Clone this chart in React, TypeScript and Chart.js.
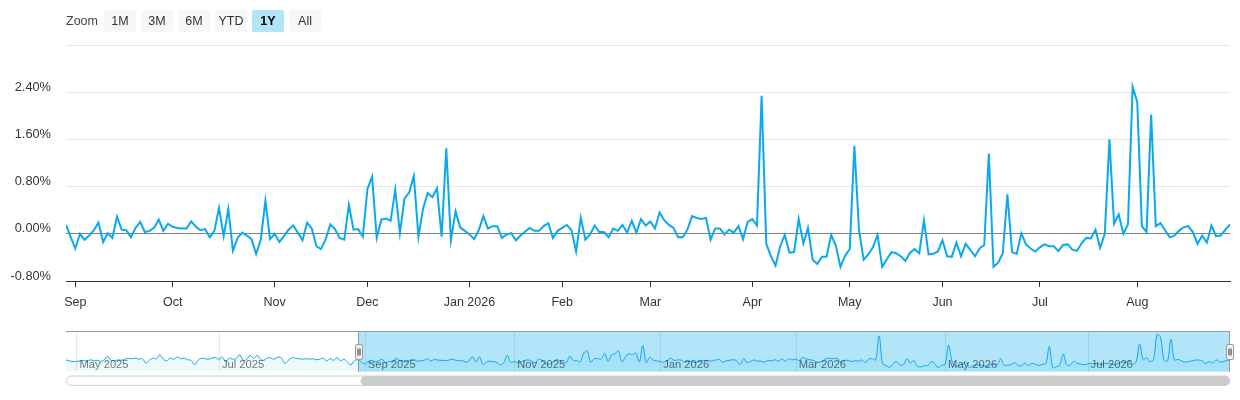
import React, { useEffect, useRef } from 'react';
import { Chart, registerables } from 'chart.js';

Chart.register(...registerables);

const FONT = '"Liberation Sans", Arial, Helvetica, sans-serif';
const LINE_COLOR = '#0aa9ec';

// ---- Navigator-only history (late Apr – 27 Aug 2025), daily % change ----
const apr2025Tail = [0.13, 0.05, -0.02];
const may2025 = [0.0, 0.05, 0.1, 0.0, 0.15, 0.05, 0.1, 0.0, 0.15, 0.45, 0.1, 0.05, 0.15, 0.1, 0.2, 0.28, 0.25, 0.3, 0.2, 0.25, -0.15];
const jun2025 = [0.1, 0.3, 0.25, 0.6, 0.2, 0.05, 0.3, 0.2, 0.4, 0.25, 0.3, 0.15, 0.1, -0.3, 0.1, 0.3, 0.25, 0.2, 0.3, 0.35];
const jul2025 = [0.2, 0.4, -0.05, 0.3, 0.2, 0.25, 0.6, 0.1, 0.2, 0.55, 0.3, 0.55, 0.2, 0.1, 0.35, 0.3, 0.2, 0.4, 0.3, -0.2, 0.1, 0.35];
const aug2025Early = [0.3, 0.25, 0.2, 0.25, 0.2, 0.25, 0.15, 0.2, 0.3, 0.05, 0.25, 0.1, 0.35, 0.05, 0.2, -0.1, -0.3, 0.05];

// ---- Main (1Y) window, daily % change ----
const aug2025Late = [0.15, -0.05];
const sep2025 = [-0.25, 0.0, -0.1, -0.03, 0.06, 0.19, -0.14, 0.01, -0.07, 0.29, 0.07, 0.06, -0.06, 0.1, 0.2, 0.03, 0.05, 0.1, 0.24, 0.05, 0.17];
const oct2025 = [0.12, 0.1, 0.09, 0.09, 0.21, 0.12, 0.06, 0.08, -0.06, 0.05, 0.44, -0.04, 0.42, -0.29, -0.07, 0.02, -0.03, -0.09, -0.34, -0.1, 0.56, -0.09];
const nov2025 = [0.0, -0.14, -0.04, 0.07, 0.14, 0.02, -0.11, 0.19, 0.09, -0.21, -0.26, -0.09, 0.16, 0.08, -0.07, -0.1, 0.49, 0.07, 0.08, -0.05];
const dec2025 = [0.76, 0.97, -0.07, 0.24, 0.26, 0.22, 0.75, 0.01, 0.6, 0.7, 0.98, -0.05, 0.43, 0.69, 0.62, 0.77, -0.05, 1.45, -0.11, 0.38, 0.11, 0.05];
const jan2026 = [-0.01, -0.09, 0.06, 0.3, 0.09, 0.13, 0.13, -0.07, -0.01, 0.01, -0.11, -0.03, 0.04, 0.1, 0.05, 0.05, 0.13, 0.18, -0.07, 0.05];
const feb2026 = [0.1, 0.15, 0.06, -0.3, 0.27, -0.1, -0.01, 0.14, 0.03, 0.03, -0.06, 0.09, 0.05, 0.15, 0.02, 0.22, 0.02, 0.25, 0.14];
const mar2026 = [0.21, 0.09, 0.36, 0.23, 0.15, 0.1, -0.06, -0.06, 0.07, 0.3, 0.27, 0.25, 0.27, -0.1, 0.09, 0.09, -0.01, 0.07, 0.02, 0.13, -0.09, 0.2];
const apr2026 = [0.25, 0.14, 2.34, -0.17, -0.38, -0.54, -0.21, -0.02, -0.32, -0.31, 0.25, -0.16, 0.1, -0.44, -0.51, -0.39, -0.39, -0.02, -0.2, -0.56, -0.37];
const may2026 = [-0.26, 1.49, 0.06, -0.44, -0.35, -0.23, -0.02, -0.56, -0.43, -0.31, -0.33, -0.38, -0.46, -0.32, -0.26, -0.33, 0.23, -0.35, -0.34, -0.3];
const jun2026 = [-0.11, -0.38, -0.39, -0.15, -0.38, -0.17, -0.27, -0.38, -0.25, -0.19, 1.36, -0.56, -0.49, -0.33, 0.67, -0.31, -0.34, 0.01, -0.18, -0.25, -0.3];
const jul2026 = [-0.23, -0.18, -0.21, -0.21, -0.29, -0.19, -0.18, -0.27, -0.29, -0.16, -0.07, -0.08, 0.07, -0.24, 0.0, 1.6, 0.17, 0.33, 0.0, 0.16, 2.49];
const aug2026 = [2.23, 0.13, 0.03, 2.02, 0.13, 0.18, 0.06, -0.06, -0.03, 0.05, 0.11, 0.13, 0.03, -0.17, -0.03, -0.15, 0.14, -0.04, -0.03, 0.07, 0.16];

const mainMonthLabels = ['Sep', 'Oct', 'Nov', 'Dec', 'Jan 2026', 'Feb', 'Mar', 'Apr', 'May', 'Jun', 'Jul', 'Aug'];
const navTickLabels = ['May 2025', 'Jul 2025', 'Sep 2025', 'Nov 2025', 'Jan 2026', 'Mar 2026', 'May 2026', 'Jul 2026'];
const yTickValues = [-0.8, 0, 0.8, 1.6, 2.4, 3.2];
const yTickLabels = ['-0.80%', '0.00%', '0.80%', '1.60%', '2.40%', ''];
const zoomButtons = ['1M', '3M', '6M', 'YTD', '1Y', 'All'];
const selectedButton = '1Y';

// ---- derived tables ----
const mainMonths = [sep2025, oct2025, nov2025, dec2025, jan2026, feb2026, mar2026, apr2026, may2026, jun2026, jul2026, aug2026];
const mainValues: number[] = [...aug2025Late, ...mainMonths.flat()];
const mainTickIdx: number[] = [];
{
  let c = aug2025Late.length;
  mainMonths.forEach((m) => {
    mainTickIdx.push(c);
    c += m.length;
  });
}
const mainLabelMap = new Map<number, string>();
mainTickIdx.forEach((v, k) => mainLabelMap.set(v, mainMonthLabels[k]));

const historyValues: number[] = [apr2025Tail, may2025, jun2025, jul2025, aug2025Early].flat();
const navValues: number[] = [...historyValues, ...mainValues];
const selectionStart = historyValues.length;
const navMonthStarts: number[] = [];
{
  let c = apr2025Tail.length;
  [may2025, jun2025, jul2025].forEach((m) => {
    navMonthStarts.push(c);
    c += m.length;
  });
  navMonthStarts.push(c); // Aug 2025
  mainTickIdx.forEach((v) => navMonthStarts.push(v + selectionStart));
}
const navTickIdx = navMonthStarts.filter((_, k) => k % 2 === 0).slice(0, navTickLabels.length);

function rr(ctx: CanvasRenderingContext2D, x: number, y: number, w: number, h: number, r: number) {
  ctx.beginPath();
  if ((ctx as any).roundRect) {
    (ctx as any).roundRect(x, y, w, h, r);
  } else {
    ctx.rect(x, y, w, h);
  }
}

const navPlugin = {
  id: 'navDecor',
  beforeDatasetsDraw(chart: any) {
    const { ctx, chartArea: a, scales } = chart;
    const xs = scales.x;
    ctx.save();
    ctx.strokeStyle = '#e6e6e6';
    ctx.lineWidth = 1;
    navTickIdx.forEach((i) => {
      const px = Math.round(xs.getPixelForValue(i)) + 0.5;
      ctx.beginPath();
      ctx.moveTo(px, a.top);
      ctx.lineTo(px, a.bottom);
      ctx.stroke();
    });
    const sx = xs.getPixelForValue(selectionStart);
    ctx.fillStyle = 'rgba(0,170,238,0.3)';
    ctx.fillRect(sx, a.top, a.right - sx, a.bottom - a.top);
    ctx.restore();
  },
  afterDatasetsDraw(chart: any) {
    const { ctx, chartArea: a, scales } = chart;
    const xs = scales.x;
    ctx.save();
    // labels
    ctx.font = `11.2px ${FONT}`;
    ctx.fillStyle = 'rgba(0,0,0,0.55)';
    ctx.textAlign = 'left';
    ctx.textBaseline = 'middle';
    navTickIdx.forEach((i, k) => {
      const px = xs.getPixelForValue(i);
      ctx.fillText(navTickLabels[k], px + 3, a.top + 33.5);
    });
    // outline
    const sx = Math.round(xs.getPixelForValue(selectionStart)) + 0.5;
    const ex = Math.round(a.right) - 0.5;
    ctx.strokeStyle = '#999999';
    ctx.lineWidth = 1;
    ctx.beginPath();
    ctx.moveTo(a.left, a.top + 0.5);
    ctx.lineTo(a.right, a.top + 0.5);
    ctx.moveTo(sx, a.top);
    ctx.lineTo(sx, a.bottom);
    ctx.moveTo(ex, a.top);
    ctx.lineTo(ex, a.bottom);
    ctx.stroke();
    // handles
    const cy = (a.top + a.bottom) / 2;
    [sx, ex].forEach((hx) => {
      const x0 = Math.round(hx - 4) + 0.5;
      const y0 = Math.round(cy - 7.5) + 0.5;
      ctx.fillStyle = '#f2f2f2';
      ctx.strokeStyle = '#999999';
      rr(ctx, x0, y0, 7, 15, 1.5);
      ctx.fill();
      ctx.stroke();
      ctx.strokeStyle = '#333333';
      ctx.beginPath();
      ctx.moveTo(x0 + 2.5, y0 + 4);
      ctx.lineTo(x0 + 2.5, y0 + 11);
      ctx.moveTo(x0 + 4.5, y0 + 4);
      ctx.lineTo(x0 + 4.5, y0 + 11);
      ctx.stroke();
    });
    // scrollbar
    const sbTop = a.bottom + 4.3;
    const sbH = 9.4;
    ctx.fillStyle = '#ffffff';
    ctx.strokeStyle = '#cccccc';
    rr(ctx, a.left + 0.5, sbTop, a.right - a.left - 1, sbH, 5);
    ctx.fill();
    ctx.stroke();
    ctx.fillStyle = '#cccccc';
    rr(ctx, sx + 2, sbTop, a.right - sx - 2, sbH, 5);
    ctx.fill();
    ctx.restore();
  },
};

export default function App() {
  const mainRef = useRef<HTMLCanvasElement>(null);
  const navRef = useRef<HTMLCanvasElement>(null);

  useEffect(() => {
    document.body.style.margin = '0';
    Chart.defaults.font.family = FONT;

    const main = new Chart(mainRef.current as HTMLCanvasElement, {
      type: 'line',
      data: {
        datasets: [
          {
            data: mainValues.map((v, i) => ({ x: i, y: v })),
            borderColor: LINE_COLOR,
            borderWidth: 2,
            pointRadius: 0,
            tension: 0,
            fill: false,
          },
        ],
      },
      options: {
        animation: false,
        responsive: false,
        maintainAspectRatio: false,
        events: [],
        layout: { padding: { top: 45, right: 10, left: 0, bottom: 0 } },
        plugins: { legend: { display: false }, tooltip: { enabled: false } },
        scales: {
          x: {
            type: 'linear',
            min: 0,
            max: mainValues.length - 1,
            afterBuildTicks: (s: any) => {
              s.ticks = mainTickIdx.map((v) => ({ value: v }));
            },
            afterFit: (s: any) => {
              s.height = 39;
            },
            grid: { drawOnChartArea: false, drawTicks: true, tickLength: 6, tickColor: '#333333', lineWidth: 1 },
            border: { display: true, color: '#333333', width: 1 },
            ticks: {
              autoSkip: false,
              maxRotation: 0,
              padding: 8,
              color: '#333333',
              font: { size: 12.5, family: FONT },
              callback: (v: any) => mainLabelMap.get(Number(v)) ?? '',
            },
          },
          y: {
            type: 'linear',
            min: -0.8,
            max: 3.2,
            afterBuildTicks: (s: any) => {
              s.ticks = yTickValues.map((v) => ({ value: v }));
            },
            afterFit: (s: any) => {
              s.width = 66;
            },
            grid: {
              drawTicks: false,
              lineWidth: 1,
              color: (c: any) => (c.tick && Math.abs(c.tick.value) < 1e-9 ? '#808080' : '#e6e6e6'),
            },
            border: { display: false },
            ticks: {
              padding: 15,
              labelOffset: -5,
              color: '#333333',
              font: { size: 12.8, family: FONT },
              callback: (v: any) => {
                const k = yTickValues.findIndex((t) => Math.abs(t - Number(v)) < 1e-9);
                return k >= 0 ? yTickLabels[k] : '';
              },
            },
          },
        },
      },
    } as any);

    const nav = new Chart(navRef.current as HTMLCanvasElement, {
      type: 'line',
      data: {
        datasets: [
          {
            data: navValues.map((v, i) => ({ x: i, y: v })),
            borderColor: LINE_COLOR,
            borderWidth: 1,
            pointRadius: 0,
            tension: 0.4,
            fill: 'start',
            backgroundColor: 'rgba(10,169,236,0.07)',
          },
        ],
      },
      options: {
        animation: false,
        responsive: false,
        maintainAspectRatio: false,
        events: [],
        layout: { padding: { top: 11, right: 10, left: 66, bottom: 28.3 } },
        plugins: { legend: { display: false }, tooltip: { enabled: false } },
        scales: {
          x: { type: 'linear', display: false, min: 0, max: navValues.length - 1 },
          y: { type: 'linear', display: false, min: -0.95, max: 2.8 },
        },
      },
      plugins: [navPlugin],
    } as any);

    return () => {
      main.destroy();
      nav.destroy();
    };
  }, []);

  return (
    <div style={{ position: 'relative', width: 1240, height: 400, fontFamily: FONT, overflow: 'hidden' }}>
      <canvas
        ref={mainRef}
        width={1240}
        height={320}
        style={{ position: 'absolute', left: 0, top: 0, width: 1240, height: 320 }}
      />
      <canvas
        ref={navRef}
        width={1240}
        height={80}
        style={{ position: 'absolute', left: 0, top: 320, width: 1240, height: 80 }}
      />
      <div
        style={{
          position: 'absolute',
          left: 66,
          top: 10,
          height: 22,
          lineHeight: '22px',
          fontSize: 12.5,
          color: '#444444',
        }}
      >
        Zoom
      </div>
      {zoomButtons.map((b, k) => (
        <div
          key={b}
          style={{
            position: 'absolute',
            left: 104 + k * 37,
            top: 10,
            width: 32,
            height: 22,
            lineHeight: '22px',
            textAlign: 'center',
            fontSize: 12.5,
            borderRadius: 2,
            background: b === selectedButton ? '#b2e4f8' : '#f7f7f7',
            color: b === selectedButton ? '#000000' : '#333333',
            fontWeight: b === selectedButton ? 'bold' : 'normal',
          }}
        >
          {b}
        </div>
      ))}
    </div>
  );
}
